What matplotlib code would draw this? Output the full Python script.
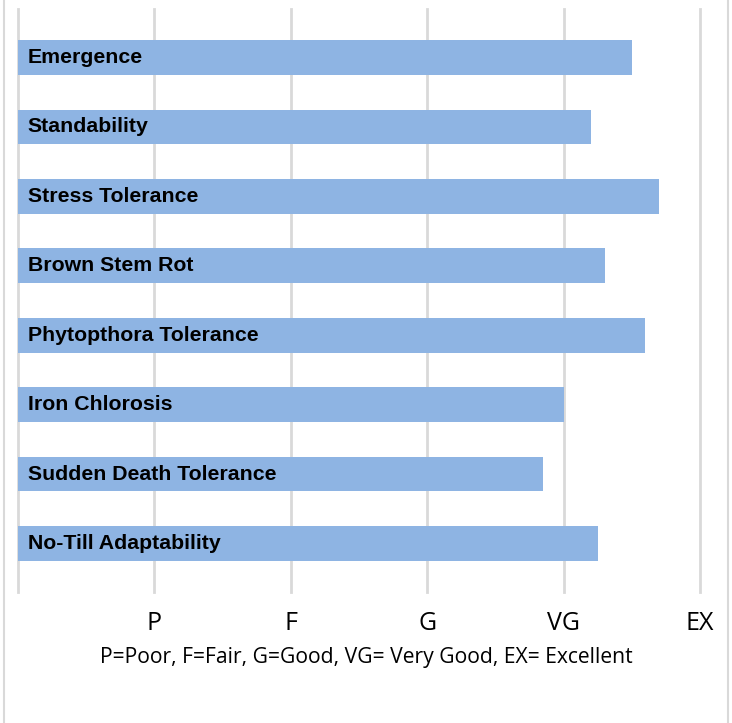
import matplotlib.pyplot as plt
from matplotlib.lines import Line2D

traits = ['Emergence', 'Standability', 'Stress Tolerance', 'Brown Stem Rot',
          'Phytopthora Tolerance', 'Iron Chlorosis', 'Sudden Death Tolerance',
          'No-Till Adaptability']
scores = [4.5, 4.2, 4.7, 4.3, 4.6, 4.0, 3.85, 4.25]
grades = ['P', 'F', 'G', 'VG', 'EX']
note = 'P=Poor, F=Fair, G=Good, VG= Very Good, EX= Excellent'

W, H = 732, 723
fig = plt.figure(figsize=(W / 100, H / 100), dpi=100)
ax = fig.add_axes([18 / W, 1 - 592 / H, (700 - 18) / W, (592 - 9) / H])

grid_col = '#d9d9d9'
for x in range(0, len(grades) + 1):
    ax.axvline(x, color=grid_col, lw=2, zorder=0, clip_on=False)

ypos = list(range(len(traits)))
ax.barh(ypos, scores, height=0.5, color='#8eb4e3', zorder=2)
for y, name in zip(ypos, traits):
    ax.text(0.07, y, name, va='center', ha='left', fontsize=15.3,
            fontweight='bold', family='Liberation Sans', zorder=3)

ax.set_xlim(0, len(grades))
ax.set_ylim(len(traits) - 0.3, -0.7)
ax.set_yticks([])
ax.set_xticks(range(1, len(grades) + 1))
ax.set_xticklabels(grades, family='Open Sans', fontsize=18)
ax.tick_params(axis='x', length=0, pad=14)
for s in ax.spines.values():
    s.set_visible(False)

fig.text(0.5, 1 - 657 / H, note, ha='center', va='center',
         family='Open Sans', fontsize=15.2)

# outer frame of the chart area
for xf in (4 / W, 728 / W):
    fig.add_artist(Line2D([xf, xf], [0, 1], color='#d9d9d9', lw=1.5,
                          transform=fig.transFigure))

fig.savefig('out.png', dpi=100)
